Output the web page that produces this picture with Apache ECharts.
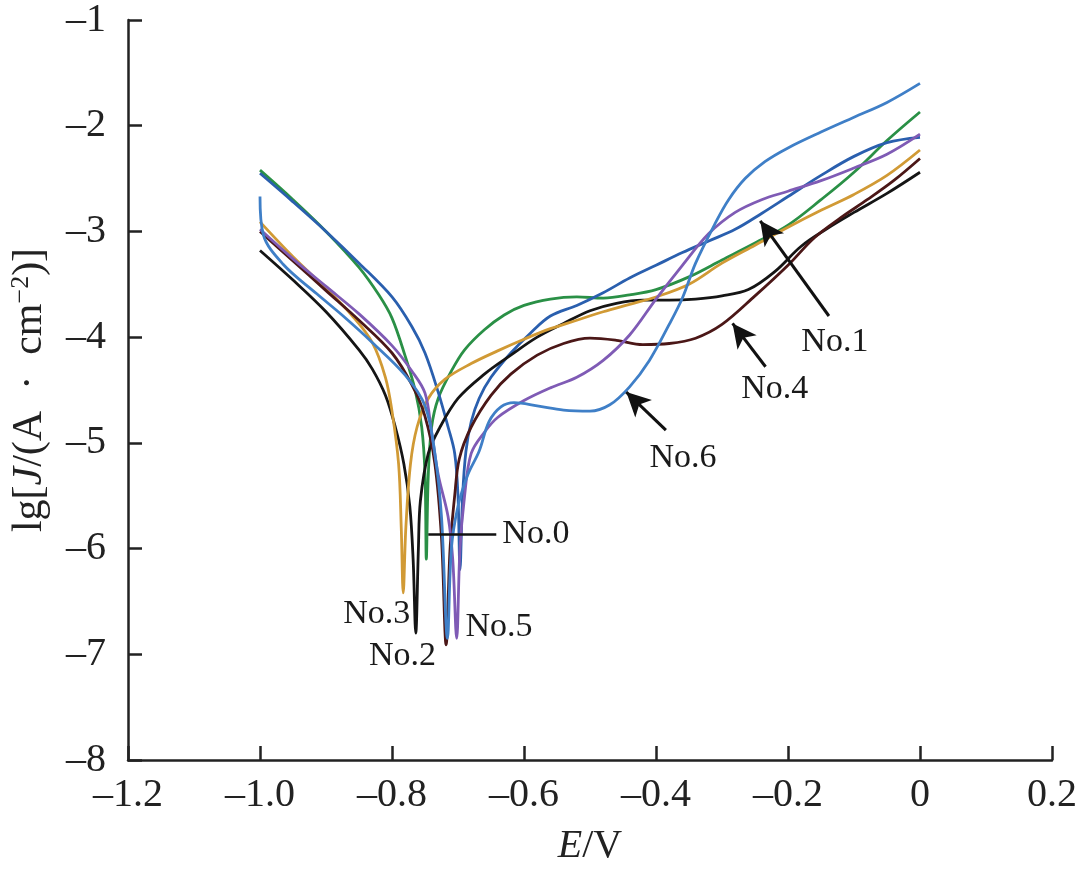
<!DOCTYPE html>
<html>
<head>
<meta charset="utf-8">
<script src="https://cdn.jsdelivr.net/npm/echarts@6/dist/echarts.min.js"></script>
<style>
  html, body { margin: 0; padding: 0; background: #fff; }
  #main { width: 1080px; height: 871px; }
</style>
</head>
<body>
<div id="main"></div>
<script>
// Tafel curves: [E (V), lg J]
var no0 = [[-1.0,-2.42],[-0.95,-2.70],[-0.9,-3.00],[-0.85,-3.34],[-0.82,-3.60],[-0.80,-3.82],[-0.78,-4.18],[-0.765,-4.50],[-0.755,-4.85],[-0.75,-5.3],[-0.748,-6.1],[-0.745,-5.3],[-0.74,-4.85],[-0.73,-4.58],[-0.71,-4.32],[-0.69,-4.12],[-0.66,-3.93],[-0.63,-3.79],[-0.60,-3.70],[-0.56,-3.64],[-0.52,-3.62],[-0.48,-3.63],[-0.44,-3.60],[-0.40,-3.55],[-0.35,-3.43],[-0.30,-3.27],[-0.25,-3.11],[-0.20,-2.94],[-0.15,-2.70],[-0.10,-2.44],[-0.05,-2.14],[0,-1.87]];
var no1 = [[-1.0,-2.45],[-0.95,-2.72],[-0.9,-3.00],[-0.85,-3.30],[-0.8,-3.62],[-0.77,-3.90],[-0.75,-4.15],[-0.73,-4.52],[-0.715,-4.85],[-0.705,-5.1],[-0.70,-5.5],[-0.697,-6.2],[-0.693,-5.5],[-0.688,-5.08],[-0.68,-4.8],[-0.668,-4.58],[-0.65,-4.38],[-0.62,-4.15],[-0.59,-3.96],[-0.56,-3.80],[-0.52,-3.70],[-0.48,-3.58],[-0.44,-3.44],[-0.40,-3.32],[-0.36,-3.20],[-0.32,-3.09],[-0.28,-2.98],[-0.24,-2.83],[-0.20,-2.67],[-0.15,-2.47],[-0.10,-2.29],[-0.05,-2.16],[0,-2.11]];
var no2 = [[-1.0,-3.18],[-0.95,-3.46],[-0.9,-3.76],[-0.85,-4.12],[-0.83,-4.30],[-0.81,-4.55],[-0.795,-4.85],[-0.782,-5.2],[-0.773,-5.6],[-0.768,-6.1],[-0.764,-6.8],[-0.76,-6.0],[-0.757,-5.55],[-0.745,-5.1],[-0.728,-4.86],[-0.70,-4.58],[-0.66,-4.35],[-0.62,-4.17],[-0.58,-4.0],[-0.54,-3.87],[-0.50,-3.75],[-0.46,-3.68],[-0.42,-3.65],[-0.38,-3.65],[-0.34,-3.64],[-0.30,-3.61],[-0.26,-3.55],[-0.22,-3.38],[-0.18,-3.14],[-0.14,-2.97],[-0.10,-2.82],[-0.05,-2.64],[0,-2.44]];
var no3 = [[-1.0,-2.91],[-0.95,-3.24],[-0.9,-3.54],[-0.86,-3.80],[-0.83,-4.05],[-0.81,-4.38],[-0.80,-4.70],[-0.79,-5.2],[-0.786,-5.8],[-0.783,-6.42],[-0.779,-5.8],[-0.772,-5.2],[-0.762,-4.85],[-0.745,-4.58],[-0.72,-4.40],[-0.68,-4.25],[-0.64,-4.13],[-0.60,-4.02],[-0.56,-3.92],[-0.52,-3.84],[-0.48,-3.76],[-0.44,-3.69],[-0.40,-3.62],[-0.35,-3.50],[-0.30,-3.30],[-0.25,-3.13],[-0.20,-2.96],[-0.15,-2.80],[-0.10,-2.65],[-0.05,-2.47],[0,-2.23]];
var no4 = [[-1.0,-3.00],[-0.95,-3.28],[-0.9,-3.56],[-0.85,-3.84],[-0.8,-4.15],[-0.77,-4.45],[-0.75,-4.75],[-0.735,-5.2],[-0.725,-5.9],[-0.718,-6.91],[-0.712,-6.0],[-0.705,-5.5],[-0.698,-5.15],[-0.68,-4.85],[-0.65,-4.55],[-0.62,-4.35],[-0.58,-4.17],[-0.54,-4.06],[-0.50,-4.01],[-0.46,-4.03],[-0.42,-4.07],[-0.38,-4.06],[-0.34,-4.01],[-0.30,-3.88],[-0.25,-3.61],[-0.20,-3.32],[-0.16,-3.06],[-0.12,-2.87],[-0.08,-2.70],[-0.04,-2.52],[0,-2.31]];
var no5 = [[-1.0,-2.98],[-0.95,-3.26],[-0.9,-3.52],[-0.85,-3.78],[-0.8,-4.08],[-0.77,-4.32],[-0.75,-4.53],[-0.74,-4.9],[-0.73,-5.3],[-0.715,-5.7],[-0.708,-6.1],[-0.702,-6.85],[-0.697,-6.0],[-0.69,-5.5],[-0.68,-5.1],[-0.66,-4.9],[-0.64,-4.76],[-0.60,-4.60],[-0.56,-4.48],[-0.52,-4.38],[-0.48,-4.22],[-0.44,-3.98],[-0.40,-3.64],[-0.36,-3.32],[-0.32,-3.02],[-0.28,-2.82],[-0.24,-2.70],[-0.20,-2.62],[-0.15,-2.52],[-0.10,-2.40],[-0.05,-2.27],[0,-2.08]];
var no6 = [[-1.0,-2.67],[-0.995,-3.03],[-0.965,-3.31],[-0.914,-3.59],[-0.874,-3.80],[-0.83,-4.05],[-0.78,-4.36],[-0.75,-4.65],[-0.735,-5.1],[-0.725,-5.7],[-0.716,-6.85],[-0.71,-6.0],[-0.70,-5.6],[-0.685,-5.3],[-0.668,-5.08],[-0.653,-4.8],[-0.635,-4.66],[-0.615,-4.62],[-0.58,-4.65],[-0.54,-4.69],[-0.50,-4.70],[-0.47,-4.64],[-0.44,-4.47],[-0.41,-4.22],[-0.38,-3.88],[-0.36,-3.63],[-0.34,-3.30],[-0.31,-2.92],[-0.29,-2.70],[-0.265,-2.50],[-0.235,-2.34],[-0.20,-2.21],[-0.15,-2.06],[-0.10,-1.92],[-0.05,-1.78],[0,-1.60]];

var curveNames = ['No.0', 'No.1', 'No.2', 'No.3', 'No.4', 'No.5', 'No.6'];
var curveData = [no0, no1, no2, no3, no4, no5, no6];
var curveColors = ['#2a9046', '#2a5fae', '#151515', '#d19a35', '#4b1717', '#7f5bb5', '#3f7fc7'];

// annotation text anchors and arrows (data coordinates)
var labelNames = ['No.0', 'No.1', 'No.2', 'No.3', 'No.4', 'No.5', 'No.6'];
var labelAt = [[-0.582,-5.86],[-0.129,-4.05],[-0.784,-7.02],[-0.823,-6.62],[-0.220,-4.49],[-0.638,-6.74],[-0.359,-5.14]];
var arrowFrom = [[-0.385,-4.88],[-0.234,-4.28],[-0.138,-3.80]];
var arrowTo   = [[-0.445,-4.52],[-0.284,-3.87],[-0.242,-2.90]];
var leaderNo0 = [[-0.745,-5.86],[-0.642,-5.86]];

var FONT = '"Liberation Serif", "Times New Roman", serif';
var INK = '#222';

function dash(s) { return s.replace('-', '\u2013'); }

var chart = echarts.init(document.getElementById('main'));

var series = [];
for (var i = 0; i < curveData.length; i++) {
  series.push({
    name: curveNames[i],
    type: 'line',
    data: curveData[i],
    showSymbol: false,
    smooth: 0.35,
    lineStyle: { color: curveColors[i], width: 2.8 },
    z: 2
  });
}

var arrowLines = [];
for (var k = 0; k < arrowFrom.length; k++) {
  arrowLines.push([{ coord: arrowFrom[k] }, { coord: arrowTo[k] }]);
}

series.push({
  name: 'labels',
  type: 'scatter',
  data: labelAt.map(function (p, j) { return { name: labelNames[j], value: p }; }),
  symbolSize: 2,
  itemStyle: { color: 'rgba(255,255,255,0)' },
  label: {
    show: true,
    position: 'inside',
    formatter: '{b}',
    color: '#1a1a1a',
    opacity: 1,
    textBorderWidth: 0,
    fontFamily: FONT,
    fontSize: 34
  },
  emphasis: { disabled: true },
  markLine: {
    silent: true,
    animation: false,
    symbol: ['none', 'arrow'],
    symbolSize: [18, 24],
    lineStyle: { color: '#111', width: 3, type: 'solid' },
    label: { show: false },
    data: arrowLines
  },
  z: 5
});

series.push({
  name: 'leader',
  type: 'line',
  data: [],
  markLine: {
    silent: true,
    animation: false,
    symbol: ['none', 'none'],
    lineStyle: { color: '#111', width: 2.5, type: 'solid' },
    label: { show: false },
    data: [[{ coord: leaderNo0[0] }, { coord: leaderNo0[1] }]]
  },
  z: 5
});

var option = {
  animation: false,
  backgroundColor: '#fff',
  grid: { left: 127, right: 24, top: 13, bottom: 108, containLabel: false },
  xAxis: {
    type: 'value',
    min: -1.2,
    max: 0.2,
    interval: 0.2,
    name: '{it|E}/V',
    nameLocation: 'middle',
    nameGap: 66,
    nameTextStyle: {
      color: INK, fontFamily: FONT, fontSize: 40,
      rich: { it: { fontStyle: 'italic', fontFamily: FONT, fontSize: 40, color: INK } }
    },
    axisLine: { show: true, onZero: false, lineStyle: { color: INK, width: 2.5 } },
    axisTick: { show: true, inside: true, length: 14, lineStyle: { color: INK, width: 2.5 } },
    axisLabel: {
      color: INK, fontFamily: FONT, fontSize: 40, margin: 15,
      formatter: function (v) {
        var r = Math.round(v * 10) / 10;
        return r === 0 ? '0' : dash(r.toFixed(1));
      }
    },
    splitLine: { show: false }
  },
  yAxis: {
    type: 'value',
    min: -8,
    max: -1,
    interval: 1,
    name: 'lg[{it|J}/(A \u2005\u00b7\u2005 cm{sup|\u22122})]',
    nameLocation: 'middle',
    nameGap: 76,
    nameTextStyle: {
      color: INK, fontFamily: FONT, fontSize: 42,
      rich: {
        it: { fontStyle: 'italic', fontFamily: FONT, fontSize: 42, color: INK },
        sup: { fontFamily: FONT, fontSize: 26, color: INK, verticalAlign: 'top', padding: [0, 0, 18, 0] }
      }
    },
    axisLine: { show: true, onZero: false, lineStyle: { color: INK, width: 2.5 } },
    axisTick: { show: true, inside: true, length: 14, lineStyle: { color: INK, width: 2.5 } },
    axisLabel: {
      color: INK, fontFamily: FONT, fontSize: 40, margin: 22,
      formatter: function (v) { return dash(String(v)); }
    },
    splitLine: { show: false }
  },
  series: series
};

chart.setOption(option);
</script>
</body>
</html>
